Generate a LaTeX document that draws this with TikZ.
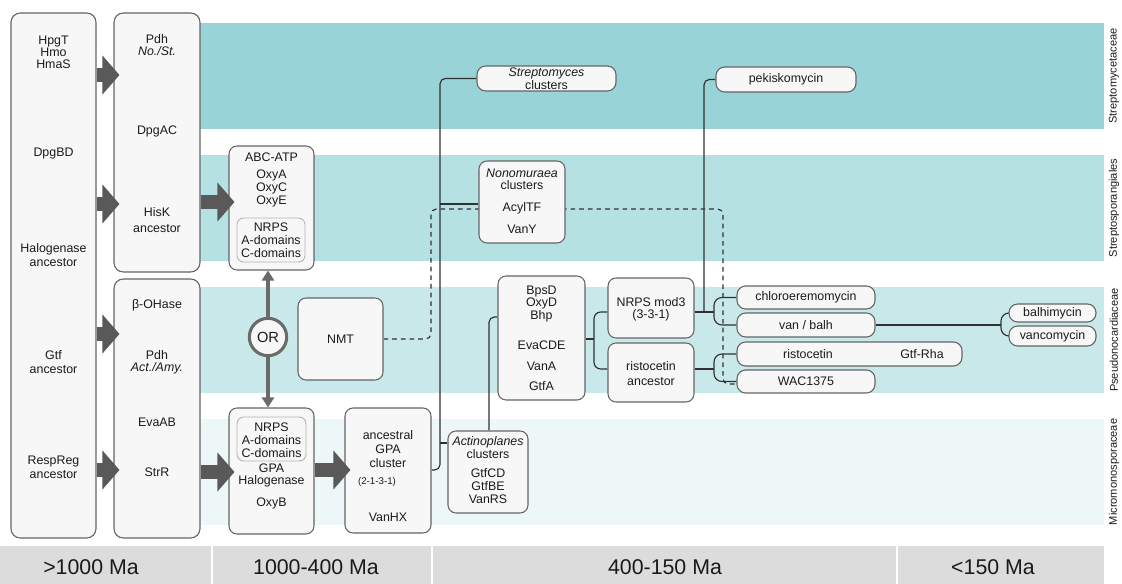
\documentclass[tikz,border=0pt]{standalone}
\usepackage{fontspec}
\setmainfont{Liberation Sans}
\usetikzlibrary{arrows.meta,fit}
\definecolor{bandA}{HTML}{98D3D8}
\definecolor{bandB}{HTML}{B5E1E3}
\definecolor{bandC}{HTML}{C8E8E9}
\definecolor{bandD}{HTML}{EEF7F8}
\definecolor{boxfill}{HTML}{F7F7F7}
\definecolor{boxline}{HTML}{646464}
\definecolor{iline}{HTML}{B4B4B4}
\definecolor{arrowgray}{HTML}{595959}
\definecolor{orgray}{HTML}{6A6A6A}
\definecolor{treecol}{HTML}{303030}
\definecolor{txt}{HTML}{1A1A1A}
\definecolor{barcol}{HTML}{DCDCDC}
\pgfdeclarelayer{bg}
\pgfsetlayers{bg,main}
\begin{document}
\begin{tikzpicture}[x=0.75pt,y=-0.75pt,
  bigbox/.style={draw=boxline, fill=boxfill, line width=0.8pt, rounded corners=7pt, inner sep=0pt},
  box/.style={draw=boxline, fill=boxfill, line width=0.8pt, rounded corners=6pt, inner sep=0pt},
  ibox/.style={draw=iline, fill=boxfill, line width=0.7pt, rounded corners=5pt, inner sep=0pt},
  pill/.style={draw=boxline, fill=boxfill, line width=0.8pt, rounded corners=6.5pt, inner sep=0pt},
  t/.style={font=\fontsize{9.3}{#1}\selectfont, align=center, text=txt, inner sep=0pt},
  t/.default=9.75pt,
  blk/.style={draw=arrowgray, line width=10.5pt, shorten >=-4.5pt, -{Triangle[width=28.5pt,length=12.75pt]}},
  orar/.style={draw=orgray, line width=2.6pt, -{Triangle[width=9pt,length=7.5pt]}},
  orc/.style={circle, draw=orgray, line width=2.3pt, fill=boxfill, minimum size=28pt, inner sep=0pt, font=\fontsize{11}{12}\selectfont, text=txt},
  tree/.style={draw=treecol, line width=0.85pt, rounded corners=4pt},
  brk/.style={draw=treecol, line width=0.85pt, rounded corners=#1},
  brk/.default=6pt,
  dline/.style={draw=treecol, line width=0.85pt, dash pattern=on 3.5pt off 3pt, rounded corners=4pt},
  era/.style={font=\fontsize{16}{18}\selectfont, text=txt, inner sep=0pt},
  fam/.style={rotate=90, font=\fontsize{8.3}{9}\selectfont, text=txt, inner sep=0pt}
]
\useasboundingbox (0,0) rectangle (1122,584);

% ---------- boxes ----------
\node[bigbox, fit={(11,13) (96,538)}] (A) {};
\node[bigbox, fit={(114,13) (200,272)}] (B) {};
\node[bigbox, fit={(114,279) (200,538)}] (C) {};
\node[box, fit={(229,146) (314,270)}] (D) {};
\node[ibox, fit={(237,218) (305,262)}] (Dn) {};
\node[box, fit={(229,408) (314,534)}] (E) {};
\node[ibox, fit={(237,417) (306,461)}] (En) {};
\node[box, fit={(298,298) (383,380)}] (NMT) {};
\node[box, fit={(345,408) (431,533)}] (F) {};
\node[pill, fit={(477,66) (616,91)}] (Strep) {};
\node[box, fit={(479,161) (565,243)}] (Non) {};
\node[box, fit={(448,431) (528,513)}] (Act) {};
\node[box, fit={(498,276) (585,400)}] (G) {};
\node[box, fit={(608,278) (694,338)}] (H) {};
\node[box, fit={(608,343) (694,402)}] (I) {};
\node[pill, fit={(716,67) (856,92)}] (Pek) {};
\node[pill, fit={(737,286) (875,309)}] (Chl) {};
\node[pill, fit={(737,313) (875,337)}] (VB) {};
\node[pill, fit={(737,342) (962,366)}] (Ris) {};
\node[pill, fit={(737,370) (875,393)}] (WAC) {};
\node[pill, fit={(1009,304) (1096,322)}] (Bal) {};
\node[pill, fit={(1009,326) (1096,346)}] (Vnc) {};
\node[orc] (OR) at (268,337) {OR};

% ---------- texts ----------
\node[t=9pt] at (53.5,52) {HpgT\\Hmo\\HmaS};
\node[t] at (53.5,154) {DpgBD};
\node[t=10.5pt] at (53.5,255) {Halogenase\\ancestor};
\node[t=10.5pt] at (53.5,362) {Gtf\\ancestor};
\node[t=10.5pt] at (53.5,467) {RespReg\\ancestor};

\node[t=8.6pt] at (157,45) {Pdh\\\textit{No./St.}};
\node[t] at (157,131) {DpgAC};
\node[t=12pt] at (157,220) {HisK\\ancestor};

\node[t] at (157,305) {β-OHase};
\node[t=9pt] at (157,362) {Pdh\\\textit{Act./Amy.}};
\node[t] at (157,422) {EvaAB};
\node[t] at (157,472) {StrR};

\node[t] at (271.5,157) {ABC-ATP};
\node[t] at (271.5,188) {OxyA\\OxyC\\OxyE};
\node[t] at (271,240) {NRPS\\A-domains\\C-domains};

\node[t] at (271.5,440) {NRPS\\A-domains\\C-domains};
\node[t=9pt] at (271.5,475) {GPA\\Halogenase};
\node[t] at (271.5,503) {OxyB};

\node[t] at (340.5,339) {NMT};

\node[t=10.5pt] at (388,449) {ancestral\\GPA\\cluster};
\node[t, font=\fontsize{7.3}{8}\selectfont] at (377,482) {(2-1-3-1)};
\node[t] at (388,517) {VanHX};

\node[t=8.6pt] at (546.5,78.5) {\textit{Streptomyces}\\clusters};
\node[t=9pt] at (522,179) {\textit{Nonomuraea}\\clusters};
\node[t] at (522,208) {AcylTF};
\node[t] at (522,229) {VanY};

\node[t=8pt] at (488,448) {\textit{Actinoplanes}\\clusters};
\node[t] at (488,486) {GtfCD\\GtfBE\\VanRS};

\node[t=9.5pt] at (541.5,304) {BpsD\\OxyD\\Bhp};
\node[t] at (541.5,345) {EvaCDE};
\node[t] at (541.5,366) {VanA};
\node[t] at (541.5,386) {GtfA};

\node[t=9pt] at (651,309) {NRPS mod3\\(3-3-1)};
\node[t=11.25pt] at (651,373.5) {ristocetin\\ancestor};

\node[t] at (786,79.5) {pekiskomycin};
\node[t] at (806,297.5) {chloroeremomycin};
\node[t] at (806,325) {van / balh};
\node[t] at (808,354) {ristocetin};
\node[t] at (922,354) {Gtf-Rha};
\node[t] at (806,381.5) {WAC1375};
\node[t] at (1052.5,313) {balhimycin};
\node[t] at (1052.5,336) {vancomycin};

\node[fam] at (1114,76) {Streptomycetaceae};
\node[fam] at (1114,208) {Streptosporangiales};
\node[fam] at (1114,340) {Pseudonocardiaceae};
\node[fam] at (1114,472) {Micromonosporaceae};

% ---------- bottom bar ----------
\fill[barcol] (0,546) rectangle (1104,584);
\draw[white, line width=1.5pt] (212,546) -- (212,584);
\draw[white, line width=1.5pt] (432,546) -- (432,584);
\draw[white, line width=1.5pt] (897,546) -- (897,584);
\node[era] at (91,567) {>1000 Ma};
\node[era] at (316,567) {1000-400 Ma};
\node[era] at (665,567) {400-150 Ma};
\node[era] at (993,567) {<150 Ma};

% ---------- background bands and connectors ----------
\begin{pgfonlayer}{bg}
\fill[bandA] (200,23) rectangle (1104,129);
\fill[bandB] (200,155) rectangle (1104,261);
\fill[bandC] (200,287) rectangle (1104,393);
\fill[bandD] (200,419) rectangle (1104,525);

\draw[tree] (F.east |- 0,470) -- (440,470) -- (440,78.5) -- (Strep.west);
\draw[tree] (440,204) -- (Non.west |- 0,204);
\draw[tree] (440,443) -- (Act.west |- 0,443);
\draw[tree] (Act.north -| 489,0) -- (489,317) -- (G.west |- 0,317);
\draw[tree] (G.east |- 0,339) -- (594,339);
\draw[brk=5pt] (H.west |- 0,312) -- (594,312) -- (594,369) -- (I.west |- 0,369);
\draw[tree] (H.east |- 0,312) -- (714,312);
\draw[tree] (704,312) -- (704,79.5) -- (Pek.west);
\draw[brk] (Chl.west) -- (714,297.5) -- (714,325) -- (VB.west);
\draw[tree] (I.east |- 0,369) -- (714,369);
\draw[brk] (Ris.west) -- (714,354) -- (714,381.5) -- (WAC.west);
\draw[tree] (VB.east) -- (1001,325);
\draw[brk] (Bal.west) -- (1001,313) -- (1001,336) -- (Vnc.west);
\draw[dline] (NMT.east) -- (431,339) -- (431,209) -- (723,209) -- (723,384) -- (WAC.west |- 0,384);
\end{pgfonlayer}

% ---------- arrows ----------
\draw[blk] (A.east |- 0,75) -- (B.west |- 0,75);
\draw[blk] (A.east |- 0,204) -- (B.west |- 0,204);
\draw[blk] (B.east |- 0,202) -- (D.west |- 0,202);
\draw[blk] (A.east |- 0,334) -- (C.west |- 0,334);
\draw[blk] (A.east |- 0,470) -- (C.west |- 0,470);
\draw[blk] (C.east |- 0,472) -- (E.west |- 0,472);
\draw[blk] (E.east |- 0,470) -- (F.west |- 0,470);
\draw[orar] (OR.north) -- (OR.north |- D.south);
\draw[orar] (OR.south) -- (OR.south |- E.north);
\end{tikzpicture}
\end{document}
